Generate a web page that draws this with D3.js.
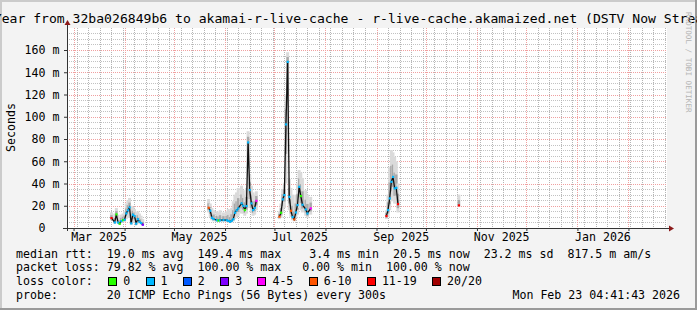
<!DOCTYPE html>
<html><head><meta charset="utf-8">
<script src="https://cdn.jsdelivr.net/npm/d3@7"></script>
<style>
html,body{margin:0;padding:0;background:#f3f3f3;}
svg{display:block;font-family:"DejaVu Sans Mono",monospace;}
text{white-space:pre;}
</style></head><body>
<svg id="c" width="697" height="310"></svg>
<script>
// ---- data ----
const dates = [
 "2025-03-24","2025-03-26","2025-03-27","2025-03-28","2025-03-29","2025-03-30","2025-03-31","2025-04-01","2025-04-02","2025-04-03","2025-04-04","2025-04-05","2025-04-06","2025-04-07","2025-04-08","2025-04-09","2025-04-10","2025-04-11","2025-04-12",
 "2025-05-22","2025-05-23","2025-05-24","2025-05-25","2025-05-27","2025-05-28","2025-05-29","2025-05-31","2025-06-02","2025-06-03","2025-06-04","2025-06-05","2025-06-06","2025-06-07","2025-06-08","2025-06-09","2025-06-11","2025-06-12","2025-06-13","2025-06-14","2025-06-15","2025-06-16","2025-06-17","2025-06-18","2025-06-19","2025-06-20",
 "2025-07-04","2025-07-05","2025-07-06","2025-07-07","2025-07-08","2025-07-09","2025-07-10","2025-07-11","2025-07-12","2025-07-13","2025-07-14","2025-07-15","2025-07-16","2025-07-17","2025-07-18","2025-07-20","2025-07-21","2025-07-23",
 "2025-09-07","2025-09-08","2025-09-09","2025-09-10","2025-09-11","2025-09-12","2025-09-13","2025-09-14",
 "2025-10-21"
];
const median = [
 9.0,5.1,12.3,5.0,3.9,6.3,7.2,7.5,13.2,16.0,18.6,4.2,12.0,10.8,4.0,8.0,5.7,4.5,3.0,
 18.3,15.6,9.3,8.1,7.0,6.8,7.0,7.2,7.0,6.5,5.7,6.6,8.0,13.8,16.0,17.7,22.2,20.0,16.2,19.8,77.0,34.2,22.2,16.2,18.0,24.5,
 10.2,13.8,25.8,29.7,93.2,149.4,28.1,15.6,10.0,7.8,14.0,20.7,37.1,28.8,21.0,16.8,13.2,17.7,
 10.8,16.2,26.7,41.6,46.0,35.7,36.2,21.6,
 20.4
];
const lossIdx = [
 6,1,0,1,0,1,0,1,1,1,1,1,1,1,1,1,1,1,3,
 5,1,1,1,1,0,1,1,1,1,1,1,1,1,1,1,1,1,0,1,1,1,1,1,1,4,
 5,0,1,1,1,1,1,5,1,5,1,1,1,0,1,1,1,4,
 6,1,1,1,1,1,1,6,
 6
];
const smokeLo = [
 7,4,5,4,3,4.5,5,5.5,8,9,10,3,5,5,3,5,4,3.5,2.5,
 14,10,7,6,5.5,5.5,5.5,5.5,5.5,5,4.5,5,6,8,10,11,13,13,11,13,30,18,14,11,12,16,
 8,9,14,18,40,90,16,10,7,6,9,12,18,16,14,11,9,12,
 8,10,16,24,28,22,22,14,
 19
];
const smokeHi = [
 14,13,18,12,10,12,13,15,22,25,27,20,19,17,14,15,13,11,8,
 26,22,18,16,15,14,16,14,15,17,14,18,24,30,32,36,38,34,30,36,87,48,38,32,30,33,
 15,22,35,40,120,158,44,36,30,22,30,40,52,50,45,34,30,28,
 16,30,55,70,68,64,60,40,
 30
];
const lossLabels = ["0","1","2","3","4-5","6-10","11-19","20/20"];
const lossColors = ["#26ff00","#00b8ff","#0059ff","#7e00ff","#ff00ff","#ff5500","#ff0000","#a10000"];
const yTicks = [0,20,40,60,80,100,120,140,160];
const yTickLabels = ["0  ","20 m","40 m","60 m","80 m","100 m","120 m","140 m","160 m"];
const xLabelMonths = ["2025-03-01","2025-05-01","2025-07-01","2025-09-01","2025-11-01","2026-01-01"];
const titleText = "Last Year from 32ba026849b6 to akamai-r-live-cache - r-live-cache.akamaized.net (DSTV Now Streaming)";
const yAxisTitle = "Seconds";
const legendRows = [
 "median rtt:  19.0 ms avg  149.4 ms max    3.4 ms min  20.5 ms now  23.2 ms sd  817.5 m am/s",
 "packet loss: 79.82 % avg  100.00 % max   0.00 % min  100.00 % now"
];
const lossTitle = "loss color:";
const probeText = "probe:       20 ICMP Echo Pings (56 Bytes) every 300s";
const stampText = "Mon Feb 23 04:41:43 2026";
const watermark = "RRDTOOL / TOBI OETIKER";

// ---- drawing ----
const W=697,H=310, PX0=67, PX1=667, PY0=228;
const parse = d3.timeParse("%Y-%m-%d");
const svg = d3.select("#c");
const x = d3.scaleTime()
  .domain([new Date(2025,1,23,4,41,43), new Date(2026,1,23,4,41,43)])
  .range([64,665]);
const y = d3.scaleLinear().domain([0,179.78]).range([228,28]);

// background + frame
svg.append("rect").attr("width",W).attr("height",H).attr("fill","#f3f3f3");
svg.append("rect").attr("x",0).attr("y",0).attr("width",W).attr("height",2).attr("fill","#cbcbcb");
svg.append("rect").attr("x",0).attr("y",0).attr("width",2).attr("height",H).attr("fill","#cbcbcb");
svg.append("rect").attr("x",0).attr("y",H-2).attr("width",W).attr("height",2).attr("fill","#9a9a9a");
svg.append("rect").attr("x",W-2).attr("y",0).attr("width",2).attr("height",H).attr("fill","#9a9a9a");

// plot area
svg.append("rect").attr("x",PX0).attr("y",y.range()[1]).attr("width",PX1-PX0).attr("height",PY0-y.range()[1]).attr("fill","#ffffff");

const grid = svg.append("g").attr("shape-rendering","crispEdges");
// minor horizontal
const minorY = d3.range(5,179.78,5).filter(v=>v%20!==0);
grid.selectAll("line.mh").data(minorY).join("line").attr("class","mh")
  .attr("x1",PX0).attr("x2",PX1).attr("y1",v=>Math.round(y(v))+0.5).attr("y2",v=>Math.round(y(v))+0.5)
  .attr("stroke","#c2c2c2").attr("stroke-dasharray","1,1");
// minor vertical (weekly)
const weeks = d3.timeMonday.range(x.domain()[0], x.domain()[1]).filter(d=>x(d)>PX0+1 && x(d)<PX1);
grid.selectAll("line.mv").data(weeks).join("line").attr("class","mv")
  .attr("x1",d=>Math.round(x(d))+0.5).attr("x2",d=>Math.round(x(d))+0.5)
  .attr("y1",y.range()[1]).attr("y2",PY0)
  .attr("stroke","#b4b4b4").attr("stroke-dasharray","1,1");
// major horizontal
grid.selectAll("line.Mh").data(yTicks.filter(v=>v>0)).join("line").attr("class","Mh")
  .attr("x1",PX0).attr("x2",PX1).attr("y1",v=>Math.round(y(v))+0.5).attr("y2",v=>Math.round(y(v))+0.5)
  .attr("stroke","#f0a0a0").attr("stroke-dasharray","1,1");
// major vertical (monthly)
const months = d3.timeMonth.range(x.domain()[0], x.domain()[1]);
grid.selectAll("line.Mv").data(months).join("line").attr("class","Mv")
  .attr("x1",d=>Math.round(x(d))+0.5).attr("x2",d=>Math.round(x(d))+0.5)
  .attr("y1",y.range()[1]).attr("y2",PY0)
  .attr("stroke","#f0a0a0").attr("stroke-dasharray","1,1");

// data rows
const rows = dates.map((d,i)=>({t:parse(d), m:median[i], l:lossIdx[i], lo:smokeLo[i], hi:smokeHi[i]}));
// smoke
const smoke = svg.append("g");
rows.forEach(r=>{
  const cx = x(r.t);
  smoke.append("rect").attr("x",cx-1.5).attr("width",3).attr("y",y(r.hi)).attr("height",y(r.lo)-y(r.hi)).attr("fill","#dadada");
  const a=(r.lo+r.m)/2, b=(r.m+r.hi)/2;
  smoke.append("rect").attr("x",cx-1.2).attr("width",2.4).attr("y",y(b)).attr("height",y(a)-y(b)).attr("fill","#a8a8a8");
});
// median line (broken at gaps)
const line = d3.line().defined(d=>d.ok).x(d=>x(d.t)).y(d=>y(d.m));
const lineData = [];
rows.forEach((r,i)=>{
  if(i>0 && (r.t - rows[i-1].t) > 5*864e5) lineData.push({ok:false});
  lineData.push({...r, ok:true});
});
svg.append("path").attr("d",line(lineData)).attr("fill","none").attr("stroke","#111").attr("stroke-width",1.3);
// loss-coloured median markers
svg.append("g").selectAll("rect").data(rows).join("rect")
  .attr("x",d=>x(d.t)-1).attr("y",d=>y(d.m)-1).attr("width",2.2).attr("height",2.2)
  .attr("fill",d=>lossColors[d.l]);

// axes
const yAxis = d3.axisLeft(y).tickValues(yTicks).tickSize(3).tickPadding(4.5)
  .tickFormat((d,i)=>yTickLabels[i]);
const gy = svg.append("g").attr("transform",`translate(${PX0},0)`).call(yAxis);
gy.select(".domain").remove();
gy.selectAll(".tick line").attr("stroke","#333");
gy.selectAll(".tick text").attr("font-family","DejaVu Sans Mono").attr("font-size","11.6px").attr("fill","#000").attr("dy","0.33em").style("white-space","pre");

const gx = svg.append("g").attr("transform",`translate(0,${PY0})`)
  .call(d3.axisBottom(x).tickValues(months).tickSize(3).tickFormat(""));
gx.select(".domain").remove();
gx.selectAll(".tick line").attr("stroke","#333");

// month labels centred in the labelled month
const fmt = d3.timeFormat("%b %Y");
xLabelMonths.forEach(s=>{
  const d=parse(s), n=d3.timeMonth.offset(d,1);
  svg.append("text").attr("x",(x(d)+x(n))/2).attr("y",241).attr("text-anchor","middle")
    .attr("font-size","11.6px").attr("fill","#000").text(fmt(d));
});

// axis lines + arrows
svg.append("line").attr("x1",PX0+0.5).attr("x2",PX0+0.5).attr("y1",231).attr("y2",24).attr("stroke","#333").attr("shape-rendering","crispEdges");
svg.append("line").attr("x1",63).attr("x2",670).attr("y1",PY0+0.5).attr("y2",PY0+0.5).attr("stroke","#333").attr("shape-rendering","crispEdges");
svg.append("path").attr("d",`M${PX0-2.5},25 L${PX0+3.5},25 L${PX0+0.5},20 Z`).attr("fill","#8b1a1a");
svg.append("path").attr("d",`M669,${PY0-2.5} L669,${PY0+3.5} L674,${PY0+0.5} Z`).attr("fill","#8b1a1a");

// title
svg.append("text").attr("x",348.5).attr("y",23).attr("text-anchor","middle").attr("font-size","13.1px").attr("fill","#000").text(titleText);
// y title
svg.append("text").attr("transform","translate(14.5,127.5) rotate(-90)").attr("text-anchor","middle").attr("font-size","11.6px").attr("fill","#000").text(yAxisTitle);
// watermark
svg.append("text").attr("transform","translate(685.5,12) rotate(90)").attr("font-size","7.6px").attr("fill","#b5b5b5").text(watermark);

// legend
const lg = svg.append("g").attr("font-size","11.6px").attr("fill","#000");
const base=[257.5,271.4,285.3,299.2];
legendRows.forEach((t,i)=>lg.append("text").attr("x",16).attr("y",base[i]).text(t));
lg.append("text").attr("x",16).attr("y",base[2]).text(lossTitle);
let lx=108.3; const cw=6.98;
lossLabels.forEach((t,i)=>{
  lg.append("rect").attr("x",lx+0.5).attr("y",277.5).attr("width",8).attr("height",8).attr("fill",lossColors[i]).attr("stroke","#000").attr("shape-rendering","crispEdges");
  lg.append("text").attr("x",lx+15).attr("y",base[2]).text(t);
  lx += 15 + t.length*cw + 15.3;
});
lg.append("text").attr("x",16).attr("y",base[3]).text(probeText);
lg.append("text").attr("x",680).attr("y",base[3]).attr("text-anchor","end").text(stampText);
</script>
</body></html>
